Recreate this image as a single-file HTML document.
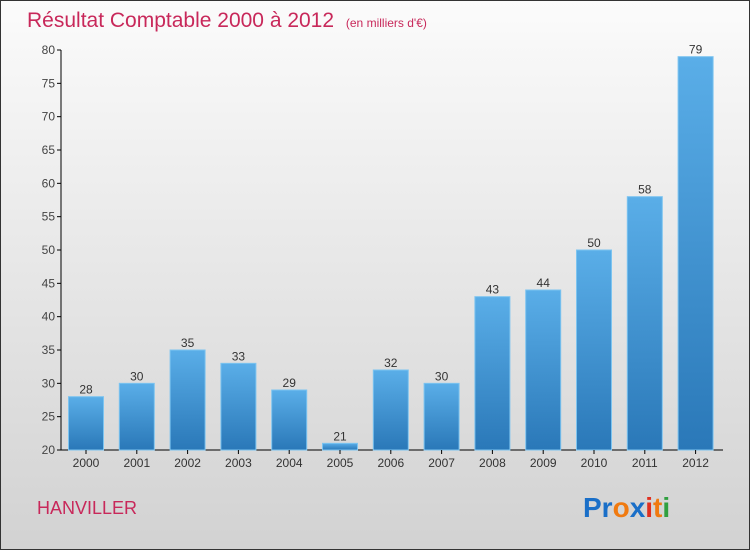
<!DOCTYPE html>
<html><head><meta charset="utf-8"><style>
body{margin:0;width:750px;height:550px;overflow:hidden;font-family:"Liberation Sans",sans-serif}
#wrap{position:relative;width:748px;height:548px;border:1px solid #333;background:linear-gradient(#fbfbfb,#d2d2d2)}
</style></head><body>
<div id="wrap">
<svg id="chart" width="748" height="548">
<defs><linearGradient id="bg" x1="0" y1="0" x2="0" y2="1"><stop offset="0" stop-color="#5aaee8"/><stop offset="1" stop-color="#2a78b8"/></linearGradient></defs>
<text x="26" y="26" font-size="21" fill="#c8285a">Résultat Comptable 2000 à 2012 <tspan font-size="12" dx="6">(en milliers d'€)</tspan></text>
<text x="36" y="513" font-size="18" fill="#c8285a">HANVILLER</text>
<text x="582" y="516" font-size="28" font-weight="bold"><tspan fill="#1a6fc8">Pr</tspan><tspan fill="#f07a10">o</tspan><tspan fill="#1a6fc8">x</tspan><tspan fill="#e03020">i</tspan><tspan fill="#f07a10">t</tspan><tspan fill="#30a040">i</tspan></text>
</svg></div>
<script>
const categories=["2000","2001","2002","2003","2004","2005","2006","2007","2008","2009","2010","2011","2012"];
const values=[28,30,35,33,29,21,32,30,43,44,50,58,79];
const yTicks=[20,25,30,35,40,45,50,55,60,65,70,75,80];
const svg=document.getElementById('chart');
const NS='http://www.w3.org/2000/svg';
const y=v=>449-(v-20)*(400/60);
const x=i=>84.5+i*50.8;
function mk(t,a){const e=document.createElementNS(NS,t);for(const k in a)e.setAttribute(k,a[k]);svg.appendChild(e);return e;}
const ax=mk('line',{x1:60,y1:49,x2:60,y2:449,stroke:'#000'});


const xa=mk('line',{x1:60,y1:449,x2:722,y2:449,stroke:'#000'});


yTicks.forEach(t=>{
 const l=mk('line',{x1:56,y1:y(t),x2:60,y2:y(t),stroke:'#000'});
 
 
 const tx=mk('text',{x:54,y:y(t)+4,'font-size':12,fill:'#444','text-anchor':'end'});
 tx.textContent=t;
 
 
});
categories.forEach((c,i)=>{
 const r=mk('rect',{x:x(i)-17,y:y(values[i]),width:35,height:449-y(values[i]),fill:'url(#bg)',stroke:'#7cc4f0','stroke-width':1});
 
 
 const v=mk('text',{x:x(i)+0.5,y:y(values[i])-3,'font-size':12,fill:'#333','text-anchor':'middle'});
 v.textContent=values[i];
 
 
 const tk=mk('line',{x1:x(i)+0.5,y1:449,x2:x(i)+0.5,y2:453,stroke:'#000'});
 
 
 const lb=mk('text',{x:x(i)+0.5,y:466,'font-size':12,fill:'#333','text-anchor':'middle'});
 lb.textContent=c;
 
 
});
</script>
</body></html>
